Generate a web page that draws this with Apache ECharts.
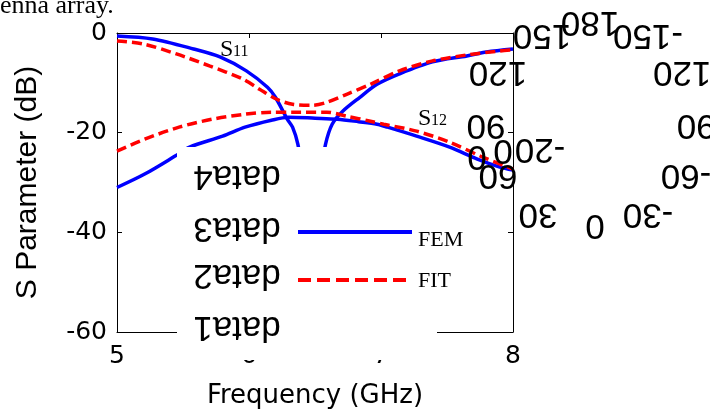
<!DOCTYPE html>
<html>
<head>
    <meta charset="utf-8">
    <title>S Parameter</title>
    <script src="https://cdn.jsdelivr.net/npm/echarts@6/dist/echarts.min.js"></script>
</head>
<body style="margin:0">
    <div id="main" style="width:710px;height:415px;"></div>
    <script type="text/javascript">

    // frequency (GHz) / dB values
    var s11FemFreq = [5.0, 5.27, 5.58, 5.78, 5.98, 6.14, 6.20, 6.29, 6.33, 6.37, 6.42, 6.47, 6.53, 6.58, 6.63, 6.71, 6.84, 6.97, 7.14, 7.39, 7.65, 7.80, 8.0];
    var s11Fem     = [-0.6, -1.2, -3.2, -4.8, -7.6, -10.9, -12.9, -17.3, -18.9, -22.3, -30, -38, -30, -22.3, -18.3, -15.7, -12.9, -10.3, -8.2, -5.8, -4.6, -3.8, -3.2];

    var s11FitFreq = [5.0, 5.2, 5.45, 5.7, 5.95, 6.08, 6.21, 6.33, 6.48, 6.59, 6.74, 6.92, 7.14, 7.39, 7.65, 7.9, 8.0];
    var s11Fit     = [-1.6, -2.2, -4.2, -6.6, -9.2, -11.3, -13.3, -14.3, -14.5, -13.9, -12.3, -10.3, -7.6, -5.6, -4.4, -3.6, -3.4];

    var s12FemFreq = [5.0, 5.21, 5.44, 5.55, 5.8, 5.97, 6.17, 6.3, 6.5, 6.67, 6.83, 6.97, 7.05, 7.27, 7.52, 7.73, 7.9, 8.0];
    var s12Fem     = [-31.0, -28.3, -24.7, -22.9, -20.7, -18.9, -17.5, -16.9, -17.1, -17.3, -17.8, -18.3, -18.9, -20.7, -22.9, -25.3, -26.9, -27.5];

    var s12FitFreq = [5.0, 5.21, 5.47, 5.72, 5.97, 6.17, 6.33, 6.59, 6.74, 6.92, 7.02, 7.27, 7.52, 7.77, 8.0];
    var s12Fit     = [-23.7, -21.3, -18.9, -17.3, -16.3, -15.9, -15.9, -15.9, -16.7, -17.7, -18.3, -19.7, -21.9, -24.9, -27.3];

    var legendNames = ['FEM', 'FIT'];
    var dataNames = ['data4', 'data3', 'data2', 'data1'];
    var polarTicks = ['0', '30', '-30', '60', '-60', '90', '-90', '120', '-120', '150', '180', '-150', '0', '0', '-20'];

    function pairs(xs, ys) {
        var out = [];
        for (var i = 0; i < xs.length; i++) out.push([xs[i], ys[i]]);
        return out;
    }

    var myChart = echarts.init(document.getElementById('main'));

    // leftover bits of the page: upside-down polar angle labels and legend names
    var polarPos = [[595,225],[538,214],[648,214],[498,175],[686,175],[486,125],[702,125],[498,72],[688,72],[542,35],[590,22],[648,35],[477,156],[503,150],[540,149]];
    var dataY = [176, 228, 275, 327];

    var graphics = [
        {type: 'text', x: 0, y: 6, z: 100, style: {text: 'enna array.', font: '26px "Liberation Serif"', fill: '#000', verticalAlign: 'middle'}},
        // white legend box covering the middle of the plot
        {type: 'rect', z: 100, shape: {x: 177, y: 147, width: 260, height: 213}, style: {fill: '#fff'}},
        {type: 'line', z: 101, shape: {x1: 298, y1: 232, x2: 412, y2: 232}, style: {stroke: '#0000ff', lineWidth: 4}},
        {type: 'line', z: 101, shape: {x1: 298, y1: 280, x2: 412, y2: 280}, style: {stroke: '#ff0000', lineWidth: 4, lineDash: [13, 6]}},
        {type: 'text', x: 418, y: 240, z: 101, style: {text: legendNames[0], font: '22px "Liberation Serif"', fill: '#000', verticalAlign: 'middle'}},
        {type: 'text', x: 418, y: 281, z: 101, style: {text: legendNames[1], font: '22px "Liberation Serif"', fill: '#000', verticalAlign: 'middle'}},
        {type: 'text', x: 220, y: 50, z: 101, style: {text: 'S', font: '24px "Liberation Serif"', fill: '#000', verticalAlign: 'middle'}},
        {type: 'text', x: 233, y: 52, z: 101, style: {text: '11', font: '16px "Liberation Serif"', fill: '#000', verticalAlign: 'middle'}},
        {type: 'text', x: 418, y: 119, z: 101, style: {text: 'S', font: '24px "Liberation Serif"', fill: '#000', verticalAlign: 'middle'}},
        {type: 'text', x: 431, y: 121, z: 101, style: {text: '12', font: '16px "Liberation Serif"', fill: '#000', verticalAlign: 'middle'}}
    ];
    for (var i = 0; i < dataNames.length; i++) {
        graphics.push({type: 'text', x: 237, y: dataY[i], rotation: Math.PI, z: 102,
            style: {text: dataNames[i], font: '35px "Liberation Sans"', fill: '#000', align: 'center', verticalAlign: 'middle'}});
    }
    for (var j = 0; j < polarTicks.length; j++) {
        graphics.push({type: 'text', x: polarPos[j][0], y: polarPos[j][1], rotation: Math.PI, z: 102,
            style: {text: polarTicks[j], font: '35px "Liberation Sans"', fill: '#000', align: 'center', verticalAlign: 'middle'}});
    }

    var tickFont = {color: '#000', fontFamily: 'DejaVu Sans', fontSize: 25};
    var boxTick = {show: true, inside: true, length: 5, lineStyle: {color: '#000'}};
    var boxLine = {show: true, onZero: false, lineStyle: {color: '#000', width: 1}};

    option = {
        animation: false,
        backgroundColor: '#fff',
        grid: {left: 117, right: 197, top: 33, bottom: 83, outerBoundsMode: 'none'},
        xAxis: [
            {
                type: 'value', min: 5, max: 8, interval: 1, position: 'bottom',
                axisLine: boxLine, axisTick: boxTick, splitLine: {show: false},
                axisLabel: Object.assign({margin: 12}, tickFont),
                name: 'Frequency (GHz)', nameLocation: 'middle', nameGap: 51,
                nameTextStyle: {color: '#000', fontFamily: 'DejaVu Sans', fontSize: 26}
            },
            {
                type: 'value', min: 5, max: 8, interval: 1, position: 'top',
                axisLine: boxLine, axisTick: boxTick, splitLine: {show: false},
                axisLabel: {show: false}
            }
        ],
        yAxis: [
            {
                type: 'value', min: -60, max: 0, interval: 20, position: 'left',
                axisLine: boxLine, axisTick: boxTick, splitLine: {show: false},
                axisLabel: Object.assign({margin: 10}, tickFont),
                name: 'S Parameter (dB)', nameLocation: 'middle', nameGap: 74,
                nameTextStyle: {color: '#000', fontFamily: 'Liberation Sans', fontSize: 30}
            },
            {
                type: 'value', min: -60, max: 0, interval: 20, position: 'right',
                axisLine: boxLine, axisTick: boxTick, splitLine: {show: false},
                axisLabel: {show: false}
            }
        ],
        graphic: graphics,
        series: [
            {name: 'FEM', type: 'line', data: pairs(s11FemFreq, s11Fem), showSymbol: false, smooth: 0.3,
                lineStyle: {color: '#0000ff', width: 3.5}, itemStyle: {color: '#0000ff'}},
            {name: 'FEM', type: 'line', data: pairs(s12FemFreq, s12Fem), showSymbol: false, smooth: 0.3,
                lineStyle: {color: '#0000ff', width: 3.5}, itemStyle: {color: '#0000ff'}},
            {name: 'FIT', type: 'line', data: pairs(s11FitFreq, s11Fit), showSymbol: false, smooth: 0.3,
                lineStyle: {color: '#ff0000', width: 3.5, type: [10, 5]}, itemStyle: {color: '#ff0000'}},
            {name: 'FIT', type: 'line', data: pairs(s12FitFreq, s12Fit), showSymbol: false, smooth: 0.3,
                lineStyle: {color: '#ff0000', width: 3.5, type: [10, 5]}, itemStyle: {color: '#ff0000'}}
        ]
    };
    myChart.setOption(option);

    </script>
</body>
</html>
